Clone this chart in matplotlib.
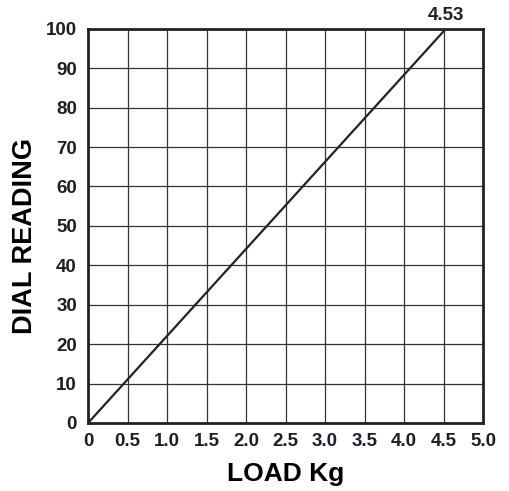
import matplotlib.pyplot as plt

plt.rcParams['font.family'] = ['Liberation Sans', 'DejaVu Sans']

# Calibration data: load (kg) vs dial reading
load_kg = [0, 4.53]
dial_reading = [0, 100]
max_label = "4.53"

x_ticks = [0, 0.5, 1.0, 1.5, 2.0, 2.5, 3.0, 3.5, 4.0, 4.5, 5.0]
x_tick_labels = ["0", "0.5", "1.0", "1.5", "2.0", "2.5", "3.0", "3.5", "4.0", "4.5", "5.0"]
y_ticks = [0, 10, 20, 30, 40, 50, 60, 70, 80, 90, 100]

fig = plt.figure(figsize=(5.09, 4.91), dpi=100)
ax = fig.add_axes([0.173, 0.1385, 0.776, 0.803])

ax.plot(load_kg, dial_reading, color='#222222', linewidth=1.6, zorder=3)
ax.text(load_kg[-1], dial_reading[-1] + 1.3, max_label, ha='center', va='bottom',
        fontsize=13.5, fontweight='bold', color='#1e1e2a')

ax.set_xlim(0, 5.0)
ax.set_ylim(0, 100)
ax.set_xticks(x_ticks)
ax.set_xticklabels(x_tick_labels)
ax.set_yticks(y_ticks)
ax.grid(True, color='#333333', linewidth=0.9)
ax.tick_params(length=0, labelsize=13.5, colors='#1e1e2a')
ax.tick_params(axis='x', pad=7)
ax.tick_params(axis='y', pad=8)
for lab in ax.get_xticklabels() + ax.get_yticklabels():
    lab.set_fontweight('bold')
for s in ax.spines.values():
    s.set_linewidth(2.0)
    s.set_color('#222222')

ax.set_xlabel("LOAD Kg", fontsize=19, fontweight='bold', labelpad=9)
ax.set_ylabel("DIAL READING", fontsize=19.5, fontweight='bold', va='center')
ax.yaxis.set_label_coords(-0.16, 0.475)

fig.savefig("out.png", dpi=100)
